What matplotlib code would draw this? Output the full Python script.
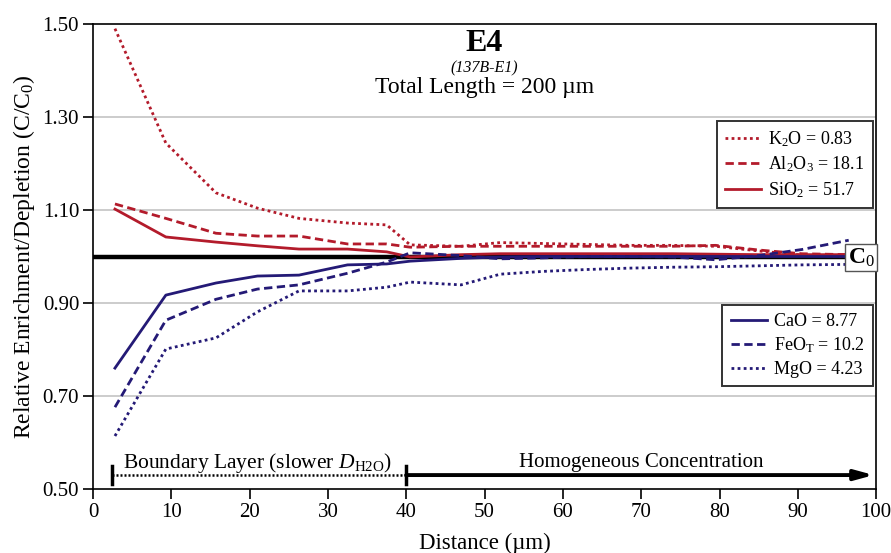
import matplotlib
matplotlib.use('Agg')
import matplotlib.pyplot as plt

plt.rcParams['font.family'] = ['Liberation Serif', 'DejaVu Serif']
plt.rcParams['mathtext.fontset'] = 'custom'
plt.rcParams['mathtext.rm'] = 'Liberation Serif'
plt.rcParams['mathtext.it'] = 'Liberation Serif:italic'
plt.rcParams['mathtext.bf'] = 'Liberation Serif:bold'

# distance along the traverse (um)
dist = [2.8, 9.3, 15.7, 21.0, 26.3, 32.5, 37.5, 40.5, 47.0, 52.0,
        57.5, 63.0, 68.5, 74.0, 79.5, 85.0, 90.5, 96.5]

# C/C0 for each oxide
k2o = [1.49, 1.244, 1.137, 1.104, 1.082, 1.072, 1.068, 1.025, 1.022, 1.030,
       1.028, 1.026, 1.024, 1.024, 1.022, 1.012, 1.003, 1.000]
al2o3 = [1.113, 1.082, 1.050, 1.044, 1.044, 1.027, 1.027, 1.020, 1.022, 1.022,
         1.022, 1.022, 1.022, 1.022, 1.024, 1.014, 1.006, 1.004]
sio2 = [1.102, 1.042, 1.031, 1.023, 1.016, 1.016, 1.010, 0.999, 1.004, 1.006,
        1.006, 1.006, 1.006, 1.006, 1.005, 1.004, 1.004, 1.004]
cao = [0.760, 0.917, 0.943, 0.958, 0.960, 0.982, 0.984, 0.990, 0.996, 0.999,
       1.000, 1.000, 1.000, 1.000, 1.000, 1.000, 1.000, 1.000]
feot = [0.676, 0.863, 0.908, 0.930, 0.939, 0.964, 0.988, 1.008, 1.002, 0.995,
        0.997, 1.000, 1.000, 0.999, 0.993, 1.002, 1.015, 1.035]
mgo = [0.614, 0.801, 0.825, 0.881, 0.926, 0.926, 0.934, 0.945, 0.939, 0.962,
       0.968, 0.972, 0.975, 0.977, 0.978, 0.980, 0.982, 0.983]

red_labels = ['K$_2$O = 0.83', 'Al$_2$O$_3$ = 18.1', 'SiO$_2$ = 51.7']
blue_labels = ['CaO = 8.77', 'FeO$_{\\rm T}$ = 10.2', 'MgO = 4.23']

red = '#b31b2b'
blue = '#241a76'
lw = 2.0

fig = plt.figure(figsize=(8.91, 5.53), dpi=100)
ax = fig.add_axes([0.1044, 0.1157, 0.8789, 0.8409])

for v in [0.70, 0.90, 1.10, 1.30]:
    ax.axhline(v, color='#c4c4c4', lw=1.2, zorder=0)

# C0 reference line
ax.plot([0, 96.3], [1.0, 1.0], color='black', lw=3.2, zorder=2)

r1, = ax.plot(dist, k2o, color=red, lw=lw, ls=(0, (1, 1.2)), zorder=3)
r2, = ax.plot(dist, al2o3, color=red, lw=lw, ls=(0, (3, 1.6)), zorder=3)
r3, = ax.plot(dist, sio2, color=red, lw=lw, ls='-', zorder=3)
b1, = ax.plot(dist, cao, color=blue, lw=lw, ls='-', zorder=3)
b2, = ax.plot(dist, feot, color=blue, lw=lw, ls=(0, (3, 1.6)), zorder=3)
b3, = ax.plot(dist, mgo, color=blue, lw=lw, ls=(0, (1, 1.2)), zorder=3)

ax.set_xlim(0, 100)
ax.set_ylim(0.50, 1.50)
ax.set_xticks(range(0, 101, 10))
ax.set_yticks([0.50, 0.70, 0.90, 1.10, 1.30, 1.50])
ax.set_yticklabels(['0.50', '0.70', '0.90', '1.10', '1.30', '1.50'])
ax.tick_params(labelsize=15, length=7, width=1.2, direction='out', pad=3)
for s in ax.spines.values():
    s.set_linewidth(1.2)

ax.set_xlabel('Distance (\u00b5m)', fontsize=16.5, labelpad=8)
ax.set_ylabel('Relative Enrichment/Depletion (C/C$_0$)', fontsize=17, labelpad=4)

# titles
ax.text(50, 1.458, 'E4', ha='center', va='center', fontsize=23, fontweight='bold')
ax.text(50, 1.404, '(137B-E1)', ha='center', va='center', fontsize=11.5, style='italic')
ax.text(50, 1.364, 'Total Length = 200 \u00b5m', ha='center', va='center', fontsize=17)

# C0 label box at right edge
ax.text(98.1, 0.998, 'C$_0$', ha='center', va='center', fontsize=17, fontweight='bold',
        bbox=dict(boxstyle='square,pad=0.1', fc='white', ec='#555555', lw=1.0),
        zorder=5, clip_on=False)

# boundary layer / homogeneous annotations
ya = 0.530
ax.plot([2.4, 40], [ya, ya], color='black', lw=1.8, ls=(0, (0.8, 0.8)), zorder=4)
ax.plot([2.4, 2.4], [ya - 0.02, ya + 0.02], color='black', lw=2.5, zorder=4)
ax.plot([40, 40], [ya - 0.02, ya + 0.02], color='black', lw=2.5, zorder=4)
ax.annotate('', xy=(99.7, ya), xytext=(40, ya),
            arrowprops=dict(arrowstyle='-|>,head_length=1.1,head_width=0.3',
                            color='black', lw=2.8, shrinkA=0, shrinkB=0),
            zorder=4)
ax.text(21.0, 0.557, 'Boundary Layer (slower $\\mathit{D}_{\\rm H2O}$)',
        ha='center', va='center', fontsize=15.5)
ax.text(70, 0.557, 'Homogeneous Concentration', ha='center', va='center', fontsize=15)

leg_kw = dict(loc='upper right', fontsize=13, frameon=True, fancybox=False,
              handlelength=2.0, handletextpad=0.4, labelspacing=0.32,
              borderpad=0.45, borderaxespad=0)
leg1 = ax.legend([r1, r2, r3], red_labels, bbox_to_anchor=(0.996, 0.791), **leg_kw)
leg1.get_frame().set_edgecolor('black')
leg1.get_frame().set_linewidth(1.4)
ax.add_artist(leg1)
leg2 = ax.legend([b1, b2, b3], blue_labels, bbox_to_anchor=(0.996, 0.396), **leg_kw)
leg2.get_frame().set_edgecolor('black')
leg2.get_frame().set_linewidth(1.4)

fig.savefig('out.png', dpi=100)
